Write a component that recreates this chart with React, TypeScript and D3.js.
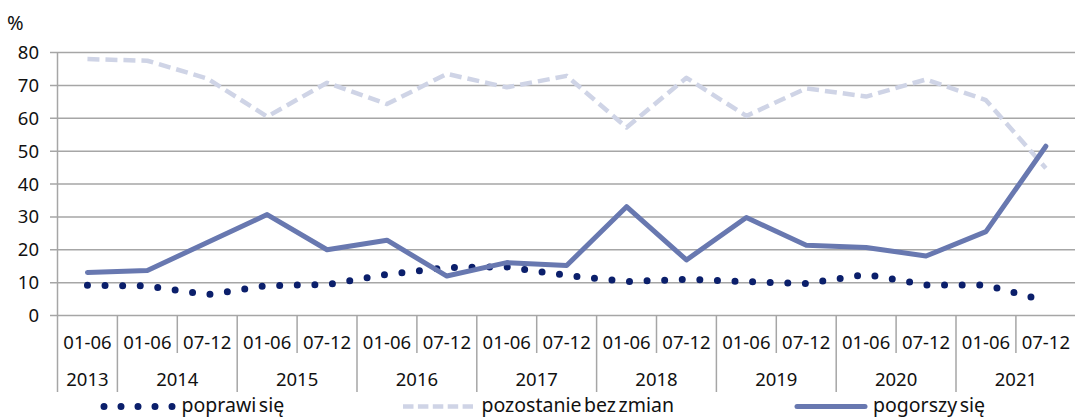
import { useEffect, useRef } from "react";
import * as d3 from "d3";

const halves = ["01-06", "01-06", "07-12", "01-06", "07-12", "01-06", "07-12", "01-06", "07-12",
  "01-06", "07-12", "01-06", "07-12", "01-06", "07-12", "01-06", "07-12"];
// year label with index of first half-year and number of halves
const years = ["2013", "2014", "2015", "2016", "2017", "2018", "2019", "2020", "2021"];
const yearStart = [0, 1, 3, 5, 7, 9, 11, 13, 15];
const yearSpan = [1, 2, 2, 2, 2, 2, 2, 2, 2];
const yTicks = [0, 10, 20, 30, 40, 50, 60, 70, 80];

const poprawi = [9.2, 9.0, 6.3, 9.1, 9.4, 12.5, 14.6, 14.8, 12.2, 10.3, 11.0, 10.3, 9.7, 12.5, 9.3, 9.3, 4.4];
const bezZmian = [78.0, 77.5, 72.1, 60.5, 70.8, 64.3, 73.5, 69.4, 72.9, 57.2, 72.3, 60.7, 69.1, 66.6, 71.8, 65.5, 44.8];
const pogorszy = [13.1, 13.7, 22.2, 30.7, 20.0, 22.9, 12.0, 16.1, 15.2, 33.1, 16.9, 29.8, 21.4, 20.7, 18.1, 25.5, 51.5];

const FONT = "'Noto Sans', 'Open Sans', sans-serif";
const GRID = "#a6a6a6";
const TEXT = "#111";

export default function App() {
  const ref = useRef<SVGSVGElement>(null);

  useEffect(() => {
    if (!ref.current) return;
    const el = ref.current;
    const width = 1075;
    const height = 417;
    d3.select(el).selectAll("*").remove();
    const svg = d3.select(el).attr("width", width).attr("height", height);

    const x = d3.scaleBand<number>().domain(d3.range(halves.length)).range([57.5, 1075.8]);
    const y = d3.scaleLinear().domain([0, 80]).range([315.5, 52.5]);
    const cx = (i: number) => (x(i) as number) + x.bandwidth() / 2;
    const bound = (k: number) => x.range()[0] + k * x.step();

    // gridlines
    svg.append("g")
      .selectAll("line")
      .data(yTicks)
      .join("line")
      .attr("x1", 50)
      .attr("x2", width)
      .attr("y1", (d) => y(d))
      .attr("y2", (d) => y(d))
      .attr("stroke", GRID)
      .attr("stroke-width", 1.5);

    // y axis line
    svg.append("line")
      .attr("x1", 57.5).attr("x2", 57.5)
      .attr("y1", y(80)).attr("y2", y(0))
      .attr("stroke", GRID).attr("stroke-width", 1.5);

    // y labels
    svg.append("g")
      .selectAll("text")
      .data(yTicks)
      .join("text")
      .attr("x", 39)
      .attr("y", (d) => y(d) + 6.5)
      .attr("text-anchor", "end")
      .style("font-family", FONT)
      .style("font-size", "18.5px")
      .style("fill", TEXT)
      .text((d) => String(d));

    svg.append("text")
      .attr("x", 7).attr("y", 30)
      .style("font-family", FONT)
      .style("font-size", "20px")
      .style("fill", TEXT)
      .text("%");

    // category dividers
    const yearBounds = new Set([...yearStart, halves.length]);
    svg.append("g")
      .selectAll("line")
      .data(d3.range(halves.length + 1))
      .join("line")
      .attr("x1", (k) => bound(k))
      .attr("x2", (k) => bound(k))
      .attr("y1", y(0))
      .attr("y2", (k) => (yearBounds.has(k) ? 392 : 353))
      .attr("stroke", GRID)
      .attr("stroke-width", 1.5);

    svg.append("g")
      .selectAll("text")
      .data(halves)
      .join("text")
      .attr("x", (_, i) => cx(i))
      .attr("y", 348.5)
      .attr("text-anchor", "middle")
      .style("font-family", FONT)
      .style("font-size", "18.5px")
      .style("fill", TEXT)
      .text((d) => d);

    svg.append("g")
      .selectAll("text")
      .data(years)
      .join("text")
      .attr("x", (_, i) => (bound(yearStart[i]) + bound(yearStart[i] + yearSpan[i])) / 2)
      .attr("y", 386)
      .attr("text-anchor", "middle")
      .style("font-family", FONT)
      .style("font-size", "18.5px")
      .style("fill", TEXT)
      .text((d) => d);

    // series
    const line = d3.line<number>().x((_, i) => cx(i)).y((d) => y(d));

    svg.append("path")
      .datum(poprawi)
      .attr("d", line)
      .attr("fill", "none")
      .attr("stroke", "#0b1f6b")
      .attr("stroke-width", 7)
      .attr("stroke-linecap", "round")
      .attr("stroke-dasharray", "0 17.6");

    svg.append("path")
      .datum(bezZmian)
      .attr("d", line)
      .attr("fill", "none")
      .attr("stroke", "#cfd4e6")
      .attr("stroke-width", 4.5)
      .attr("stroke-linejoin", "round")
      .attr("stroke-dasharray", "12 6");

    svg.append("path")
      .datum(pogorszy)
      .attr("d", line)
      .attr("fill", "none")
      .attr("stroke", "#6878b0")
      .attr("stroke-width", 5)
      .attr("stroke-linecap", "round")
      .attr("stroke-linejoin", "round");

    // legend
    const ly = 406.5;
    const leg = svg.append("g");
    leg.append("line")
      .attr("x1", 104).attr("x2", 173).attr("y1", ly).attr("y2", ly)
      .attr("stroke", "#0b1f6b").attr("stroke-width", 7)
      .attr("stroke-linecap", "round").attr("stroke-dasharray", "0 17");
    leg.append("line")
      .attr("x1", 403).attr("x2", 473).attr("y1", ly).attr("y2", ly)
      .attr("stroke", "#cfd4e6").attr("stroke-width", 4.5)
      .attr("stroke-dasharray", "10.5 4.4");
    leg.append("line")
      .attr("x1", 797).attr("x2", 865).attr("y1", ly).attr("y2", ly)
      .attr("stroke", "#6878b0").attr("stroke-width", 5)
      .attr("stroke-linecap", "round");

    const legendItems = [
      { label: "poprawi się", x: 181.5 },
      { label: "pozostanie bez zmian", x: 481.5 },
      { label: "pogorszy się", x: 873 },
    ];
    leg.selectAll("text")
      .data(legendItems)
      .join("text")
      .attr("x", (d) => d.x)
      .attr("y", 412)
      .style("font-family", FONT)
      .style("font-size", "19.5px")
      .style("word-spacing", "-2.5px")
      .style("fill", TEXT)
      .text((d) => d.label);
  }, []);

  return (
    <svg ref={ref} style={{ position: "absolute", left: 0, top: 0, display: "block" }} />
  );
}
